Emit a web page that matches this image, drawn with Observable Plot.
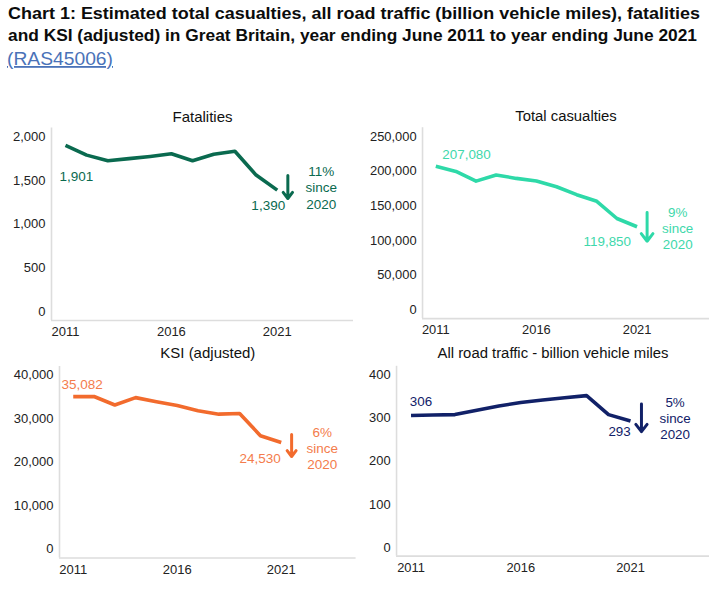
<!DOCTYPE html>
<html><head><meta charset="utf-8">
<script src="https://cdn.jsdelivr.net/npm/d3@7"></script>
<script src="https://cdn.jsdelivr.net/npm/@observablehq/plot@0.6"></script>
<style>
html,body{margin:0;padding:0;background:#fff}
body{width:709px;height:591px;overflow:hidden;position:relative;font-family:"Liberation Sans",Arial,sans-serif}
.panel{position:absolute}
.panel svg{overflow:visible}
</style></head><body>
<svg id="head" width="709" height="75" style="position:absolute;left:0;top:0">
  <text x="8" y="19" font-family="Liberation Sans, Arial, sans-serif" font-weight="bold" font-size="17" fill="#0b0c0c" textLength="692" lengthAdjust="spacingAndGlyphs">Chart 1: Estimated total casualties, all road traffic (billion vehicle miles), fatalities</text>
  <text x="8" y="41" font-family="Liberation Sans, Arial, sans-serif" font-weight="bold" font-size="17" fill="#0b0c0c" textLength="689" lengthAdjust="spacingAndGlyphs">and KSI (adjusted) in Great Britain, year ending June 2011 to year ending June 2021</text>
  <text x="7" y="65" font-family="Liberation Sans, Arial, sans-serif" font-size="18" fill="#4a72b8" text-decoration="underline" textLength="106" lengthAdjust="spacingAndGlyphs">(RAS45006)</text>
</svg>
<div id="p1" class="panel" style="left:0;top:95px"></div>
<div id="p2" class="panel" style="left:354px;top:95px"></div>
<div id="p3" class="panel" style="left:0;top:340px"></div>
<div id="p4" class="panel" style="left:354px;top:340px"></div>
<script>
// ---- data ----
const years = [2011, 2012, 2013, 2014, 2015, 2016, 2017, 2018, 2019, 2020, 2021];
const fatalities = [1901, 1790, 1725, 1750, 1775, 1805, 1725, 1800, 1835, 1562, 1390];
const casualties = [207080, 199500, 185500, 194500, 189500, 185800, 177500, 166000, 156500, 131700, 119850];
const ksi = [35082, 35100, 33150, 34850, 33900, 33050, 31850, 31050, 31200, 26100, 24530];
const traffic = [306, 307, 308, 318, 328, 336, 342, 347, 352, 308, 293];
const panelTitles = ["Fatalities", "Total casualties", "KSI (adjusted)", "All road traffic - billion vehicle miles"];
const changeLabels = ["11%\nsince\n2020", "9%\nsince\n2020", "6%\nsince\n2020", "5%\nsince\n2020"];
const xTicks = [2011, 2016, 2021];
const yTicksFat = [0, 500, 1000, 1500, 2000];
const yTicksCas = [0, 50000, 100000, 150000, 200000, 250000];
const yTicksKsi = [0, 10000, 20000, 30000, 40000];
const yTicksTra = [0, 100, 200, 300, 400];
const arrowYear = [2021.5, 2021.5, 2021.5, 2021.5];
const arrowFrom = [1557, 140400, 26380, 332.7];
const arrowTo = [1294, 98930, 21320, 268.4];

const xDomain = [2010.34, 2024.6];
const fmt = d3.format(",");

function panel(id, o) {
  const data = years.map((x, i) => ({x, v: o.values[i]}));
  const first = data[0], last = data[data.length - 1];
  const yMax = o.yTicks[o.yTicks.length - 1];
  const yDomain = [-0.05 * yMax, 1.05 * yMax];
  const chart = Plot.plot({
    width: o.width, height: o.height,
    marginLeft: o.ml, marginRight: o.mr, marginTop: o.mt, marginBottom: o.mb,
    x: {domain: xDomain, ticks: xTicks, tickFormat: d => String(d), tickSize: 0, tickPadding: 6.5, label: null},
    y: {domain: yDomain, ticks: o.yTicks, tickFormat: fmt, tickSize: 0, tickPadding: 6, label: null},
    style: {fontFamily: "Liberation Sans, Arial, sans-serif", fontSize: "13px", color: "#222", background: "transparent"},
    marks: [
      Plot.ruleX([xDomain[0]], {stroke: "#dddddd", strokeWidth: 1.6}),
      Plot.ruleY([yDomain[0]], {stroke: "#dddddd", strokeWidth: 1.6}),
      Plot.line(data, {x: "x", y: "v", stroke: o.color, strokeWidth: 3.6, strokeLinecap: "butt"}),
      Plot.text([first], {x: "x", y: "v", text: d => fmt(d.v), dx: o.firstDx, dy: o.firstDy, fill: o.text, fontSize: 13.5}),
      Plot.text([last], {x: "x", y: "v", text: d => fmt(d.v), dx: o.lastDx, dy: o.lastDy, fill: o.text, fontSize: 13.5}),
      Plot.arrow([o.k], {x1: k => arrowYear[k], x2: k => arrowYear[k], y1: k => arrowFrom[k], y2: k => arrowTo[k],
        stroke: o.color, strokeWidth: 3, headLength: 11, headAngle: 75}),
      Plot.text([last], {x: "x", y: "v", text: () => changeLabels[o.k], dx: o.chDx, dy: o.chDy, lineHeight: 1.2, fill: o.text, fontSize: 13.5}),
      Plot.text([panelTitles[o.k]], {frameAnchor: "top", text: d => d, lineAnchor: "bottom", dy: o.titleDy, fontSize: 15, fill: "#111"})
    ]
  });
  document.getElementById(id).appendChild(chart);
}

panel("p1", {k: 0, values: fatalities, yTicks: yTicksFat, color: "#0a6a4f", text: "#0a6a4f",
  width: 354, height: 245, ml: 51, mr: 1, mt: 32.5, mb: 20,
  firstDx: 11, firstDy: 31, lastDx: -9, lastDy: 16, chDx: 44, chDy: -3, titleDy: -6.5});
panel("p2", {k: 1, values: casualties, yTicks: yTicksCas, color: "#2ed9a8", text: "#3ed8ab",
  width: 358, height: 245, ml: 68.6, mr: 0, mt: 32.5, mb: 20,
  firstDx: 31, firstDy: -12, lastDx: -30, lastDy: 15, chDx: 41, chDy: 1, titleDy: -6.5});
panel("p3", {k: 2, values: ksi, yTicks: yTicksKsi, color: "#f26b2d", text: "#f47c4c",
  width: 356, height: 251, ml: 59, mr: 0.4, mt: 26, mb: 33.5,
  firstDx: 9, firstDy: -12, lastDx: -21, lastDy: 16, chDx: 41, chDy: 5.5, titleDy: -8.5});
panel("p4", {k: 3, values: traffic, yTicks: yTicksTra, color: "#112168", text: "#112168",
  width: 358, height: 251, ml: 42.4, mr: 0, mt: 26, mb: 33.5,
  firstDx: 10, firstDy: -13.5, lastDx: -11, lastDy: 11, chDx: 45, chDy: -3, titleDy: -8.5});
</script>
</body></html>
